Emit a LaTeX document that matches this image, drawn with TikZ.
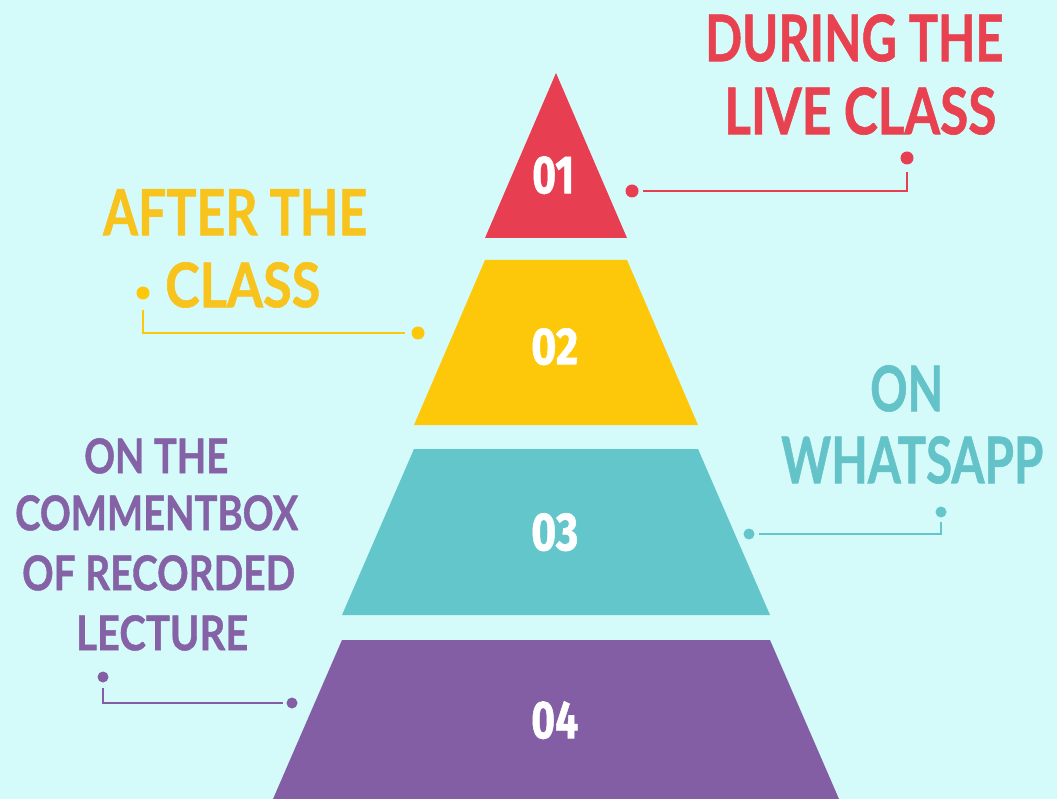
\documentclass[tikz,border=0pt]{standalone}
\usepackage{fontspec}
\usepackage{graphicx}
\setmainfont{Lato}[BoldFeatures={FakeBold=1}]
\newfontfamily\numfont{Fira Sans}[BoldFeatures={FakeBold=1.2}]
\definecolor{bgc}{HTML}{D4FBFA}
\definecolor{redc}{HTML}{E83E52}
\definecolor{yelc}{HTML}{FDC80A}
\definecolor{tealc}{HTML}{63C6CB}
\definecolor{purc}{HTML}{845EA4}
\definecolor{redt}{HTML}{E8414F}
\definecolor{yelt}{HTML}{F8C31C}
\definecolor{tealt}{HTML}{64C3C8}
\definecolor{purt}{HTML}{8561A6}
\newcommand\fitline[3]{\resizebox{#1pt}{#2pt}{#3}}
\tikzset{
  lab/.style={anchor=north west, inner sep=0pt, font=\bfseries},
  numlab/.style={anchor=north west, inner sep=0pt, text=white, font=\numfont\bfseries},
  dotn/.style={circle, fill=#1, inner sep=0pt, minimum size=13pt},
  smalldot/.style={circle, fill=#1, inner sep=0pt, minimum size=11pt},
  conn/.style={draw=#1, line width=2.8pt}
}
\begin{document}
\begin{tikzpicture}[x=1pt,y=-1pt]
\useasboundingbox (0,0) rectangle (1057,799);
\fill[bgc] (0,0) rectangle (1057,799);

% pyramid pieces
\fill[redc] (556,73) -- (627,238) -- (485,238) -- cycle;
\fill[yelc] (485,260) -- (627,260) -- (698,425) -- (414,425) -- cycle;
\fill[tealc] (414,449) -- (698,449) -- (770,615) -- (342,615) -- cycle;
\fill[purc] (342,640) -- (770,640) -- (839,799) -- (273,799) -- cycle;

% numbers
\node[numlab] (n1) at (532,156) {\fitline{42}{37}{01}};
\node[numlab] (n2) at (531,328) {\fitline{47}{36}{02}};
\node[numlab] (n3) at (531,513) {\fitline{47}{37}{03}};
\node[numlab] (n4) at (531,701) {\fitline{47}{37}{04}};

% red label
\node[lab, text=redt] (r1) at (705,14) {\fitline{298}{47}{DURING THE}};
\node[lab, text=redt] (r2) at (724,87) {\fitline{272}{47}{LIVE CLASS}};
% yellow label
\node[lab, text=yelt] (y1) at (103,189) {\fitline{264}{46}{AFTER THE}};
\node[lab, text=yelt] (y2) at (165,262) {\fitline{155}{45}{CLASS}};
% teal label
\node[lab, text=tealt] (t1) at (870,365) {\fitline{73}{46}{ON}};
\node[lab, text=tealt] (t2) at (781,436) {\fitline{262}{47}{WHATSAPP}};
% purple label
\node[lab, text=purt] (p1) at (84,438) {\fitline{144}{35}{ON THE}};
\node[lab, text=purt] (p2) at (15,495) {\fitline{283}{35}{COMMENTBOX}};
\node[lab, text=purt] (p3) at (22,555) {\fitline{273}{35}{OF RECORDED}};
\node[lab, text=purt] (p4) at (76,615) {\fitline{172}{35}{LECTURE}};

% connectors
\node[dotn=redc] (ra) at (632,191) {};
\node[dotn=redc] (rb) at (907,158) {};
\draw[conn=redc] ([xshift=4.5pt]ra.east) -| ([yshift=-7pt]rb.south);

\node[dotn=yelc] (ya) at (143,293) {};
\node[dotn=yelc] (yb) at (418,333) {};
\draw[conn=yelc] ([yshift=-10pt]ya.south) |- ([xshift=-6pt]yb.west);

\node[smalldot=tealc] (ta) at (749,534) {};
\node[smalldot=tealc] (tb) at (941,512) {};
\draw[conn=tealc] ([xshift=4pt]ta.east) -| ([yshift=-4pt]tb.south);

\node[smalldot=purc] (pa) at (103,677) {};
\node[smalldot=purc] (pb) at (292,703) {};
\draw[conn=purc] ([yshift=-5pt]pa.south) |- ([xshift=-3pt]pb.west);
\end{tikzpicture}
\end{document}
